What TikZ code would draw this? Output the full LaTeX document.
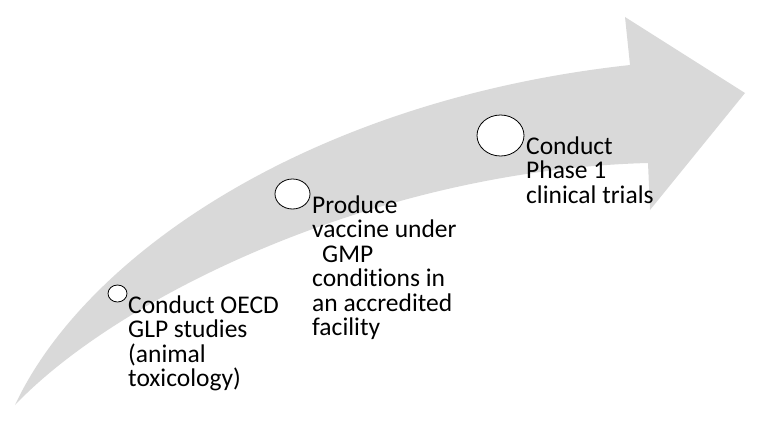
\documentclass[tikz,border=0pt]{standalone}
\usepackage{fontspec}
\setmainfont[Ligatures=NoCommon]{Carlito}
\usepackage{tikz}
\usetikzlibrary{shapes.geometric}

\definecolor{arrowgrey}{RGB}{217,217,217}

\tikzset{
	milestone/.style={ellipse, draw=black, fill=white, line width=0.8pt, inner sep=0pt},
	% base of a multi-line node sits on its last line
	steptext/.style={anchor=base west, align=left, inner sep=0pt,
		font=\fontsize{25.5}{24.5}\selectfont}
}

\begin{document}
\begin{tikzpicture}[x=1pt, y=-1pt]
	\useasboundingbox (0,0) rectangle (759,420);

	% the big curved arrow
	\fill[arrowgrey] (15,405) .. controls (85,255) and (310,100) .. (630,65)
		-- (625,17) -- (745,93) -- (650,210) -- (648,163)
		.. controls (380,170) and (120,295) .. (15,405) -- cycle;

	\node[milestone, minimum width=19pt, minimum height=17pt] (m1) at (117.5,293.5) {};
	\node[milestone, minimum width=35pt, minimum height=30pt] (m2) at (292.5,194)   {};
	\node[milestone, minimum width=47pt, minimum height=41pt] (m3) at (500.5,135.5) {};

	\node[steptext] (t1) at (128,386.5) {Conduct OECD\\GLP studies\\(animal\\toxicology)};
	\node[steptext] (t2) at (312,335.5) {Produce\\vaccine under\\\hspace{10pt}GMP\\conditions in\\an accredited\\facility};
	\node[steptext] (t3) at (526,203)   {Conduct\\Phase 1\\clinical trials};
\end{tikzpicture}
\end{document}
